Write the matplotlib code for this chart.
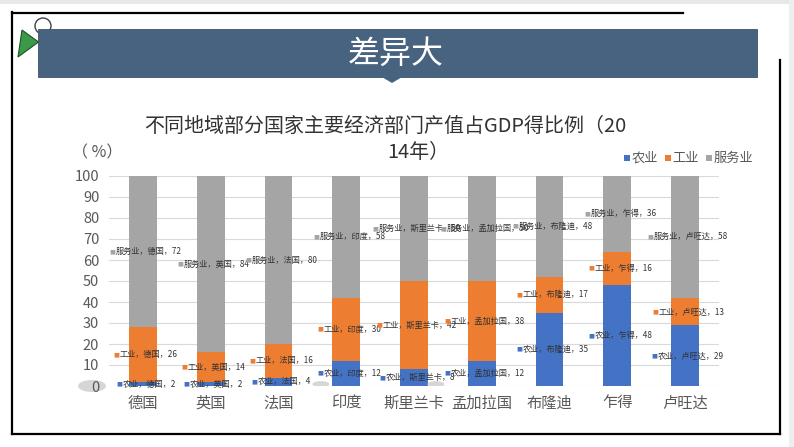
import matplotlib
matplotlib.use("Agg")
import matplotlib.pyplot as plt
from matplotlib.patches import Rectangle, Polygon, Ellipse
from matplotlib.lines import Line2D
import numpy as np

plt.rcParams['font.family'] = ['Noto Sans CJK SC', 'DejaVu Sans']

countries = ['德国', '英国', '法国', '印度', '斯里兰卡', '孟加拉国', '布隆迪', '乍得', '卢旺达']
agri = [2, 2, 4, 12, 8, 12, 35, 48, 29]
industry = [26, 14, 16, 30, 42, 38, 17, 16, 13]
services = [72, 84, 80, 58, 50, 50, 48, 36, 58]
series_names = ['农业', '工业', '服务业']
colors = ['#4472C4', '#ED7D31', '#A5A5A5']
yticks = list(range(0, 101, 10))
title_line1 = '不同地域部分国家主要经济部门产值占GDP得比例（20'
title_line2 = '14年）'
banner_text = '差异大'
unit_text = '（ %）'

W, H = 794, 447
fig = plt.figure(figsize=(W / 100, H / 100), dpi=100)
fig.patch.set_facecolor('white')


def fx(x):
    return x / W


def fy(y):
    return 1 - y / H


def frect(x0, y0, x1, y1, **kw):
    r = Rectangle((fx(x0), fy(y1)), fx(x1) - fx(x0), fy(y0) - fy(y1),
                  transform=fig.transFigure, **kw)
    fig.add_artist(r)
    return r


def fline(xs, ys, **kw):
    fig.add_artist(Line2D([fx(x) for x in xs], [fy(y) for y in ys],
                          transform=fig.transFigure, **kw))


# background strips
frect(0, 0, W, 4, facecolor='#e8e8e8', edgecolor='none')
frect(789, 0, W, H, facecolor='#eeeeee', edgecolor='none')

# frame lines
fline([12, 683], [12.5, 12.5], color='black', lw=1.6)
fline([12, 12], [12, 434], color='black', lw=1.6)
fline([12, 780], [434, 434], color='black', lw=1.6)
fline([780, 780], [60, 434], color='black', lw=1.6)

# small circle behind banner
fig.add_artist(Ellipse((fx(43), fy(26)), 16 / W, 16 / H, transform=fig.transFigure,
                       facecolor='none', edgecolor='#404040', lw=1.0, zorder=1))
# banner
frect(38, 29, 757, 77, facecolor='#476380', edgecolor='#3d5570', lw=0.6, zorder=2)
fig.add_artist(Polygon([(fx(381), fy(76.5)), (fx(403), fy(76.5)), (fx(392), fy(83))],
                       closed=True, transform=fig.transFigure, facecolor='#476380',
                       edgecolor='none', zorder=2))
# green triangle
fig.add_artist(Polygon([(fx(22), fy(30)), (fx(18), fy(57)), (fx(38.5), fy(42))],
                       closed=True, transform=fig.transFigure, facecolor='#3b9a47',
                       edgecolor='#1f4f25', lw=0.8, zorder=3))
fig.text(fx(396), fy(54), banner_text, color='white', fontsize=23,
         ha='center', va='center', zorder=4)

# titles
fig.text(fx(385), fy(126), title_line1, color='#333333', fontsize=14.4,
         ha='center', va='center')
fig.text(fx(387), fy(153), title_line2, color='#333333', fontsize=14.4,
         ha='left', va='center')
fig.text(fx(72), fy(153), unit_text, color='#595959', fontsize=11.5,
         ha='left', va='center')

# ellipse behind 0
fig.add_artist(Ellipse((fx(92), fy(386)), 28 / W, 12 / H, transform=fig.transFigure,
                       facecolor='#d6d6d6', edgecolor='none', zorder=0))

# axes
ax = fig.add_axes([fx(109), fy(386), fx(719) - fx(109), fy(176) - fy(386)])
ax.set_facecolor('none')
x = np.arange(len(countries))
agri_a = np.array(agri)
ind_a = np.array(industry)
srv_a = np.array(services)
bottoms = [np.zeros(len(x)), agri_a, agri_a + ind_a]
vals = [agri_a, ind_a, srv_a]
bw = 0.41
for k in range(3):
    ax.bar(x, vals[k], bw, bottom=bottoms[k], color=colors[k], zorder=2)

ax.set_xlim(-0.5, len(countries) - 0.5)
ax.set_ylim(0, 100)
ax.set_yticks(yticks)
ax.set_yticklabels([str(v) for v in yticks], fontsize=10.5, color='#595959')
ax.set_xticks(x)
ax.set_xticklabels(countries, fontsize=11, color='#595959')
ax.tick_params(axis='both', length=0)
ax.tick_params(axis='y', pad=7)
ax.tick_params(axis='x', pad=6)
for s in ax.spines.values():
    s.set_visible(False)
ax.grid(axis='y', color='#d9d9d9', lw=0.8, zorder=0)
ax.set_axisbelow(True)

# decorative faint ellipses near the baseline
for cx in [321, 436]:
    ax.add_artist(Ellipse(((cx - 109) / 67.8 - 0.5, 0.9), 17 / 67.8, 2.8,
                          facecolor='#d6d6d6', edgecolor='none', zorder=3))

# data labels
for k in range(3):
    for i in range(len(countries)):
        yc = bottoms[k][i] + vals[k][i] / 2
        t = ax.text(i + 0.09, yc, f'{series_names[k]}，{countries[i]}，{vals[k][i]}',
                    fontsize=5.9, color='#333333', ha='center', va='center', zorder=5)
        ax.annotate('■', xy=(0, 0.5), xycoords=t, xytext=(-0.3, 0),
                    textcoords='offset points', ha='right', va='center',
                    fontsize=4.5, color=colors[k], family='DejaVu Sans', zorder=5)

# legend
lx = [624, 665, 706]
for k in range(3):
    frect(lx[k], 155, lx[k] + 5.5, 160.5, facecolor=colors[k], edgecolor='none')
    fig.text(fx(lx[k] + 7.5), fy(158), series_names[k], fontsize=9.5, color='#595959',
             ha='left', va='center')

fig.savefig('out.png', dpi=100)
